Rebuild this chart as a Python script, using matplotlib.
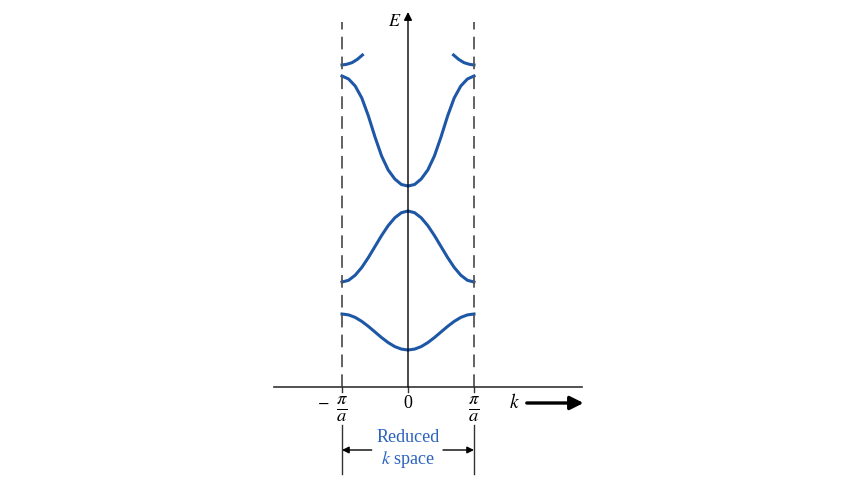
# Reduced-zone E(k) band diagram
import matplotlib.pyplot as plt

plt.rcParams['font.family'] = ['Liberation Serif', 'DejaVu Serif']
plt.rcParams['mathtext.fontset'] = 'stix'

# k in units of pi/a (half zone, mirrored for negative k)
k_half = [0.0, 0.1, 0.2, 0.3, 0.4, 0.5, 0.6, 0.7, 0.8, 0.9, 1.0]

# energies (arbitrary units)
band1 = [3.7, 3.79, 4.04, 4.44, 4.94, 5.5, 6.06, 6.56, 6.96, 7.21, 7.3]
band2 = [17.6, 17.43, 16.92, 16.14, 15.15, 14.05, 12.95, 11.96, 11.18, 10.67, 10.5]
band3 = [20.1, 20.25, 20.8, 21.7, 23.1, 25.0, 27.1, 28.9, 30.1, 30.8, 31.1]

# top band only shows a short piece near the zone edges
k_top = [0.69, 0.77, 0.85, 0.93, 1.0]
band4 = [33.2, 32.75, 32.43, 32.27, 32.2]

blue = '#1d57a6'
txt_blue = '#2a62bd'
dark = '#333333'

fig = plt.figure(figsize=(8.6, 4.84), dpi=100)
ax = fig.add_axes([0, 0, 1, 1])
ax.set_xlim(-6.1818, 6.8485)
ax.set_ylim(-9.7, 38.7)
ax.axis('off')

# bands
for band in [band1, band2, band3]:
    ks = [-k for k in k_half[::-1]] + k_half[1:]
    es = band[::-1] + band[1:]
    ax.plot(ks, es, color=blue, lw=2.2, solid_joinstyle='round')
ax.plot(k_top, band4, color=blue, lw=2.2, solid_joinstyle='round')
ax.plot([-k for k in k_top], band4, color=blue, lw=2.2, solid_joinstyle='round')

# zone boundaries
for kb in [-1, 1]:
    ax.plot([kb, kb], [0, 36.5], color='#555555', lw=1.3, dashes=(7, 4))
    ax.plot([kb, kb], [0, -0.5], color=dark, lw=1.0)
    ax.plot([kb, kb], [-3.8, -8.7], color=dark, lw=1.0)
ax.plot([0, 0], [0, -0.5], color=dark, lw=1.0)

# axes
ax.plot([-2.03, 2.64], [0, 0], color=dark, lw=1.2)
ax.annotate('', xy=(0, 37.5), xytext=(0, 0),
            arrowprops=dict(arrowstyle='-|>', color='black', lw=1.0,
                            mutation_scale=12, shrinkA=0, shrinkB=0))
ax.text(-0.2, 36.6, '$E$', fontsize=13, ha='center', va='center')

# k axis labels
ax.text(-1.29, -1.6, '$-$', fontsize=12, ha='center', va='center')
ax.text(-1.0, -2.25, r'$\frac{\pi}{a}$', fontsize=19, ha='center', va='center')
ax.text(0, -1.6, '0', fontsize=13, ha='center', va='center')
ax.text(1.0, -2.25, r'$\frac{\pi}{a}$', fontsize=19, ha='center', va='center')
ax.text(1.62, -1.6, '$k$', fontsize=14, ha='center', va='center')
ax.annotate('', xy=(2.66, -1.6), xytext=(1.8, -1.6),
            arrowprops=dict(arrowstyle='-|>', color='black', lw=2.4,
                            mutation_scale=20, shrinkA=0, shrinkB=0))

# reduced k space marker
ax.annotate('', xy=(-1, -6.3), xytext=(-0.55, -6.3),
            arrowprops=dict(arrowstyle='-|>', color='black', lw=1.0,
                            mutation_scale=10, shrinkA=0, shrinkB=0))
ax.annotate('', xy=(1, -6.3), xytext=(0.53, -6.3),
            arrowprops=dict(arrowstyle='-|>', color='black', lw=1.0,
                            mutation_scale=10, shrinkA=0, shrinkB=0))
ax.text(0, -5.1, 'Reduced', fontsize=13, color=txt_blue, ha='center', va='center')
ax.text(0, -7.3, '$k$ space', fontsize=13, color=txt_blue, ha='center', va='center')

fig.savefig('out.png', dpi=100)
